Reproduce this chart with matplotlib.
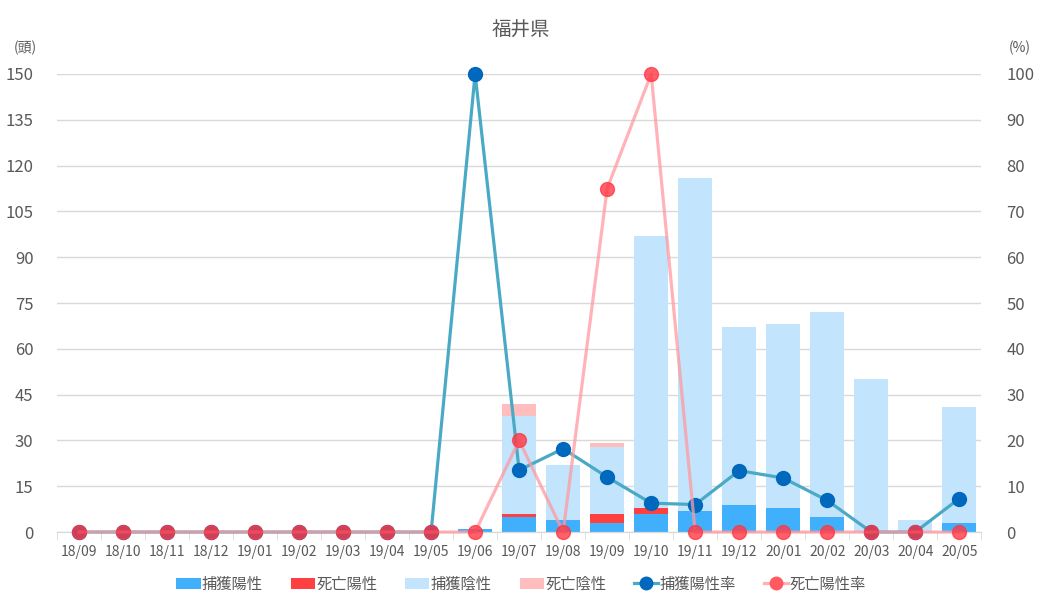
import numpy as np
import matplotlib
matplotlib.use("Agg")
import matplotlib.pyplot as plt

plt.rcParams['font.family'] = ['Noto Sans CJK JP', 'DejaVu Sans']

# data
months = ['18/09', '18/10', '18/11', '18/12', '19/01', '19/02', '19/03', '19/04', '19/05',
          '19/06', '19/07', '19/08', '19/09', '19/10', '19/11', '19/12', '20/01', '20/02',
          '20/03', '20/04', '20/05']
capture_pos = [0, 0, 0, 0, 0, 0, 0, 0, 0, 1, 5, 4, 3, 6, 7, 9, 8, 5, 0, 0, 3]
death_pos = [0, 0, 0, 0, 0, 0, 0, 0, 0, 0, 1, 0, 3, 2, 0, 0, 0, 0, 0, 0, 0]
capture_neg = [0, 0, 0, 0, 0, 0, 0, 0, 0, 0, 32, 18, 22, 89, 109, 58, 60, 67, 50, 4, 38]
death_neg = [0, 0, 0, 0, 0, 0, 0, 0, 0, 0, 4, 0, 1, 0, 0, 0, 0, 0, 0, 0, 0]
capture_rate = [0, 0, 0, 0, 0, 0, 0, 0, 0, 100, 13.5, 18.2, 12.0, 6.3, 6.0, 13.4, 11.8, 6.9, 0, 0, 7.3]
death_rate = [0, 0, 0, 0, 0, 0, 0, 0, 0, 0, 20, 0, 75, 100, 0, 0, 0, 0, 0, 0, 0]

txt = '#595959'
grid = '#d9d9d9'

fig = plt.figure(figsize=(10.42, 6.09), dpi=100)
ax = fig.add_axes([0.0547, 0.1264, 0.887, 0.7521])
ax2 = ax.twinx()

x = np.arange(len(months))
w = 0.77
b1 = np.array(capture_pos)
b2 = b1 + np.array(death_pos)
b3 = b2 + np.array(capture_neg)
ax.bar(x, capture_pos, w, color='#41b0fc', label='捕獲陽性', zorder=2)
ax.bar(x, death_pos, w, bottom=b1, color='#ff4040', label='死亡陽性', zorder=2)
ax.bar(x, capture_neg, w, bottom=b2, color='#c2e4fc', label='捕獲陰性', zorder=2)
ax.bar(x, death_neg, w, bottom=b3, color='#ffbdbd', label='死亡陰性', zorder=2)

# rate lines on the right axis
l1, = ax2.plot(x, capture_rate, color='#4aaac6', lw=2.3, marker='o', ms=10,
               mfc='#0068bd', mec='#0068bd', label='捕獲陽性率', zorder=3, clip_on=False)
ax2.plot(x, death_rate, color='#ff9aa0', lw=2.3, alpha=0.75, zorder=4, clip_on=False)
ax2.plot(x, death_rate, ls='none', marker='o', ms=10, mfc='#ff3844', mec='#ff3844',
         alpha=0.8, zorder=5, clip_on=False)
l2, = ax2.plot([], [], color='#ffb0b5', lw=2.3, marker='o', ms=10,
               mfc='#ff5a62', mec='#ff5a62', label='死亡陽性率')

ax.set_xlim(-0.5, len(months) - 0.5)
ax.set_ylim(0, 150)
ax2.set_ylim(0, 100)
ax.set_yticks(np.arange(0, 151, 15))
ax2.set_yticks(np.arange(0, 101, 10))
ax.yaxis.grid(True, color=grid, lw=1)
ax.set_axisbelow(True)

ax.set_xticks(x)
ax.set_xticklabels(months)
ax.set_xticks(np.arange(-0.5, len(months)), minor=True)
ax.tick_params(axis='x', which='major', length=0, labelsize=10, colors=txt, pad=9)
ax.tick_params(axis='x', which='minor', length=6, color=grid)
ax.tick_params(axis='y', length=0, labelsize=12, colors=txt, pad=17)
ax2.tick_params(axis='y', length=0, labelsize=12, colors=txt, pad=18)

for a in (ax, ax2):
    for s in ['top', 'left', 'right']:
        a.spines[s].set_visible(False)
    a.spines['bottom'].set_color(grid)

fig.text(0.5, 0.95, '福井県', ha='center', va='center', fontsize=14, color=txt)
fig.text(0.024, 0.921, '(頭)', ha='center', va='center', fontsize=10, color=txt)
fig.text(0.979, 0.921, '(%)', ha='center', va='center', fontsize=10, color=txt)

h, lab = ax.get_legend_handles_labels()
fig.legend(h + [l1, l2], lab + ['捕獲陽性率', '死亡陽性率'], loc='center',
           bbox_to_anchor=(0.5, 0.041), ncol=6, frameon=False, fontsize=11,
           handlelength=1.6, handleheight=0.7, handletextpad=0.1, columnspacing=1.8,
           labelcolor=txt, markerscale=0.9)

fig.savefig('out.png', dpi=100)
